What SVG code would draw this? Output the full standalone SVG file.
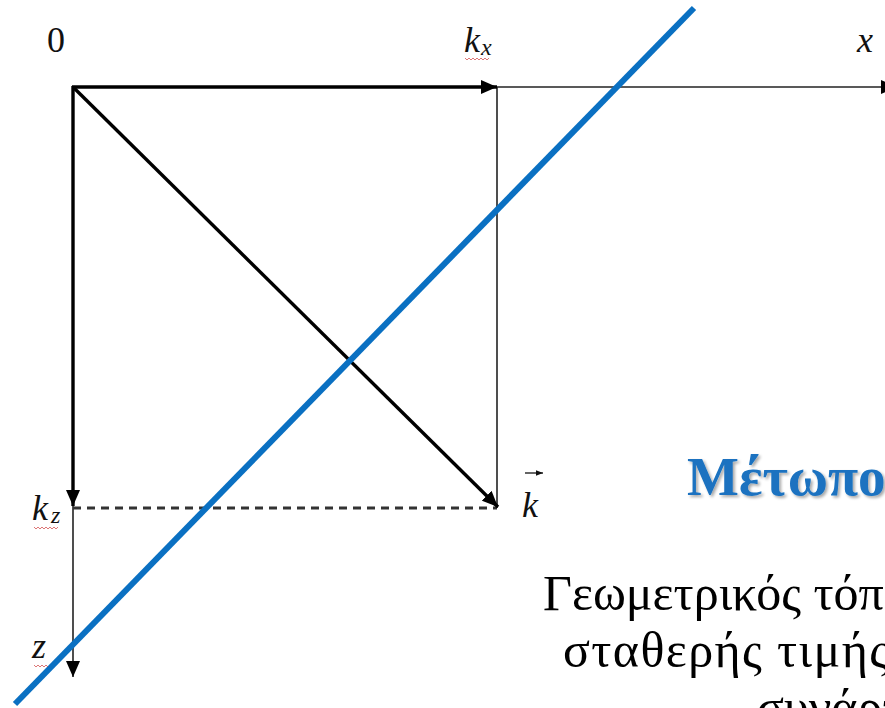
<svg xmlns="http://www.w3.org/2000/svg" width="885" height="708" viewBox="0 0 885 708">
<style>
.lbl{font-family:"Liberation Serif","Times New Roman",serif;font-style:italic;fill:#111}
.up{font-style:normal}
.thick{stroke:#000;stroke-width:3.4;fill:none}
.thin{stroke:#222;stroke-width:1.6;fill:none}
.wavy{stroke:#d04040;stroke-width:0.9;fill:none;opacity:0.8}
.body{font-family:"Liberation Serif","Times New Roman",serif;font-size:50px;fill:#000}
</style>
<defs>
<marker id="ah" viewBox="0 0 16 14" refX="16" refY="7" markerWidth="16" markerHeight="14" markerUnits="userSpaceOnUse" orient="auto">
<path d="M0,0 L16,7 L0,14 z" fill="#000"/>
</marker>
<marker id="ahs" viewBox="0 0 10 8" refX="10" refY="4" markerWidth="7" markerHeight="6" markerUnits="userSpaceOnUse" orient="auto">
<path d="M0,0 L10,4 L0,8 z" fill="#111"/>
</marker>
<filter id="sh" x="-5%" y="-10%" width="115%" height="130%">
<feGaussianBlur in="SourceAlpha" stdDeviation="1.5"/>
<feOffset dx="2" dy="2" result="b"/>
<feComponentTransfer><feFuncA type="linear" slope="0.35"/></feComponentTransfer>
<feMerge><feMergeNode/><feMergeNode in="SourceGraphic"/></feMerge>
</filter>
</defs>
<rect width="885" height="708" fill="#fff"/>
<g id="connectors">
<line class="thin" x1="497" y1="87" x2="897" y2="87" marker-end="url(#ah)"/>
<line class="thin" x1="73" y1="506" x2="73" y2="677" marker-end="url(#ah)"/>
<line class="thin" x1="497" y1="87" x2="497" y2="508" stroke="#666"/>
<line x1="73" y1="508" x2="497" y2="508" stroke="#333" stroke-width="3" stroke-dasharray="8,6"/>
<line class="thick" x1="72" y1="87" x2="497" y2="87" marker-end="url(#ah)"/>
<line class="thick" x1="73" y1="86" x2="73" y2="506" marker-end="url(#ah)"/>
<line class="thick" x1="73" y1="87" x2="498" y2="507" marker-end="url(#ah)"/>
</g>
<g id="wavefront">
<line x1="694" y1="8" x2="15" y2="704" stroke="#0a70c2" stroke-width="6"/>
</g>
<g id="origin"><text class="lbl up" x="47" y="52" font-size="36">0</text></g>
<g id="kx">
<text class="lbl" x="464" y="52" font-size="36">k</text>
<text class="lbl" x="481" y="55" font-size="24">x</text>
<path class="wavy" d="M465,58 l2,2 l2,-2 l2,2 l2,-2 l2,2 l2,-2 l2,2 l2,-2 l2,2 l2,-2 l2,2 l2,-2"/>
</g>
<g id="xlabel"><text class="lbl" x="857" y="52" font-size="36">x</text></g>
<g id="kz">
<text class="lbl" x="32" y="520" font-size="36">k</text>
<text class="lbl" x="51" y="523" font-size="24">z</text>
<path class="wavy" d="M34,527 l2,2 l2,-2 l2,2 l2,-2 l2,2 l2,-2 l2,2 l2,-2 l2,2 l2,-2 l2,2 l2,-2"/>
</g>
<g id="zlabel">
<text class="lbl" x="32" y="658" font-size="36">z</text>
<path class="wavy" d="M34,665 l2,2 l2,-2 l2,2 l2,-2 l2,2 l2,-2 l2,2"/>
</g>
<g id="kvec">
<text class="lbl" x="522" y="517" font-size="36">k</text>
<line x1="525" y1="473" x2="543" y2="473" stroke="#111" stroke-width="1.3" marker-end="url(#ahs)"/>
</g>
<g id="title">
<text x="687" y="495" font-family="'Liberation Serif','Times New Roman',serif" font-size="55" font-weight="bold" fill="#1a72c0" filter="url(#sh)">Μέτωπο</text>
</g>
<g id="description">
<text class="body" x="543" y="610">Γεωμετρικός τόπος</text>
<text class="body" x="563" y="667" textLength="326" lengthAdjust="spacing">σταθερής τιμής</text>
<text class="body" x="757" y="724">συνάρτησης</text>
</g>
</svg>
